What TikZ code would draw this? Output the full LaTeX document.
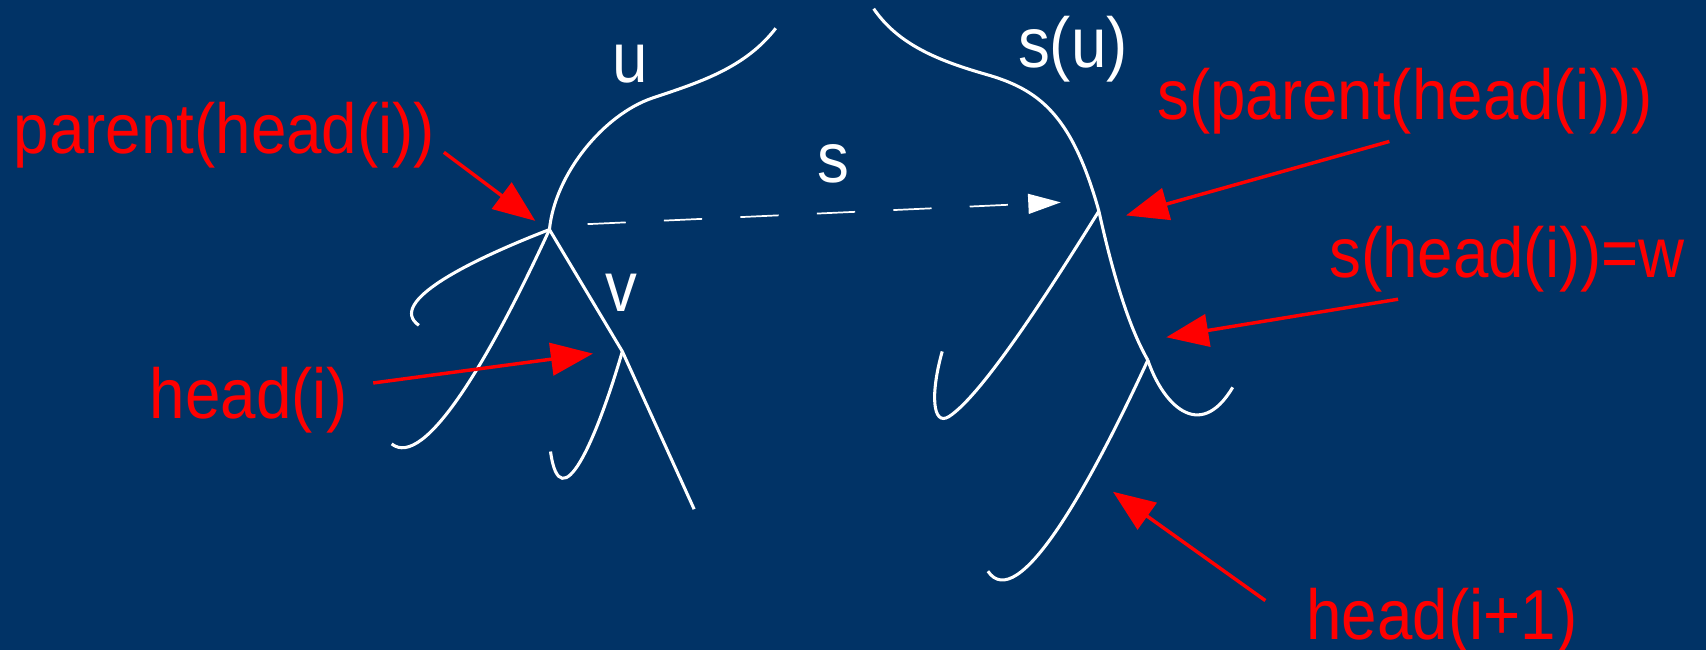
\documentclass[tikz,border=0pt]{standalone}
\usepackage{fontspec}
\setmainfont{Liberation Sans}[FakeStretch=0.9]
\usetikzlibrary{arrows.meta}
\definecolor{bg}{RGB}{1,51,102}
\begin{document}
\begin{tikzpicture}[x=0.01cm,y=-0.01cm,
  branch/.style={white,line width=0.8pt},
  redarrow/.style={red,line width=0.9pt,-{Triangle[length=11pt,width=8.5pt]}},
  lbl/.style={anchor=base west,inner sep=0pt,font=\fontsize{18.5}{22}\selectfont},
  redlbl/.style={lbl,text=red},
  whitelbl/.style={lbl,text=white}]
\fill[bg] (0,0) rectangle (1568,597);
\useasboundingbox (0,0) rectangle (1568,597);
% key points
\coordinate (P) at (505,211);
\coordinate (V) at (572,323);
\coordinate (Q) at (1010,194);
\coordinate (W) at (1055,331);
\coordinate (utop) at (713,26);
\coordinate (sutop) at (803,8);
\coordinate (Pl1) at (385,299);
\coordinate (Pl2) at (360,408);
\coordinate (Vr) at (638,468);
\coordinate (Vl) at (506,415);
\coordinate (Ql) at (866,323);
\coordinate (Wr) at (1133,356);
\coordinate (Wl) at (908,525);
\coordinate (ds) at (540,206);
\coordinate (de) at (975,186);
% left tree
\draw[branch] (utop) .. controls (685,62) and (645,75) .. (600,90)
  .. controls (555,105) and (510,160) .. (P);
\draw[branch] (P) .. controls (430,240) and (355,278) .. (Pl1);
\draw[branch] (P) .. controls (450,330) and (390,432) .. (Pl2);
\draw[branch] (P) -- (V) -- (Vr);
\draw[branch] (V) .. controls (548,405) and (515,480) .. (Vl);
% right tree
\draw[branch] (sutop) .. controls (825,40) and (860,55) .. (905,68)
  .. controls (955,82) and (985,105) .. (Q);
\draw[branch] (Q) .. controls (975,250) and (905,362) .. (872,383)
  .. controls (857,392) and (855,362) .. (Ql);
\draw[branch] (Q) .. controls (1025,262) and (1040,305) .. (W);
\draw[branch] (W) .. controls (1068,370) and (1102,408) .. (Wr);
\draw[branch] (W) .. controls (1000,450) and (935,565) .. (Wl);
% dashed map arrow
\draw[white,line width=0.45pt,dash pattern=on 10pt off 10pt,-{Triangle[length=8.5pt,width=5.2pt]}] (ds) -- (de);
% white labels
\node[whitelbl] (lu) at (562,76) {u};
\node[whitelbl] (lsu) at (935,62) {s(u)};
\node[whitelbl] (ls) at (751,168) {s};
\node[whitelbl] (lv) at (556,286) {v};
% red labels
\node[redlbl] (lph) at (12,141) {parent(head(i))};
\node[redlbl] (lh) at (137,385) {head(i)};
\node[redlbl] (lsph) at (1063,110) {s(parent(head(i)))};
\node[redlbl] (lshw) at (1221,255) {s(head(i))=w};
\node[redlbl] (lh1) at (1200,588) {head(i+1)};
% red arrows
\coordinate (a1s) at (408,140); \coordinate (a1e) at (492,203);
\coordinate (a2s) at (343,352); \coordinate (a2e) at (545,325);
\coordinate (a3s) at (1277,130); \coordinate (a3e) at (1035,198);
\coordinate (a4s) at (1285,275); \coordinate (a4e) at (1072,310);
\coordinate (a5s) at (1163,552); \coordinate (a5e) at (1023,452);
\draw[redarrow] (a1s) -- (a1e);
\draw[redarrow] (a2s) -- (a2e);
\draw[redarrow] (a3s) -- (a3e);
\draw[redarrow] (a4s) -- (a4e);
\draw[redarrow] (a5s) -- (a5e);
\end{tikzpicture}
\end{document}
